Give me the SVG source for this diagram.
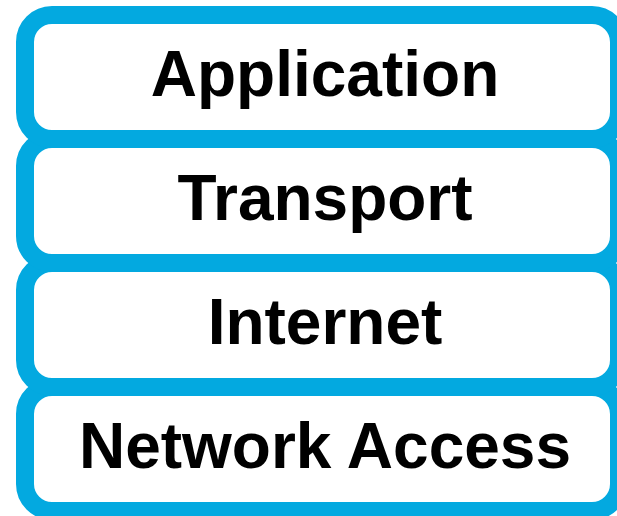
<svg xmlns="http://www.w3.org/2000/svg" width="617" height="516" viewBox="0 0 617 516">
  <style>
    .layer { fill: #ffffff; stroke: #03A9E0; stroke-width: 18; }
    .label { font-family: "Liberation Sans", Arial, sans-serif; font-weight: bold; font-size: 64px; fill: #000000; text-anchor: middle; }
  </style>
  <rect width="617" height="516" fill="#ffffff"/>
  <g id="network-access">
    <rect class="layer" x="25" y="387" width="594" height="124" rx="27" ry="27"/>
    <text class="label" x="325" y="468">Network Access</text>
  </g>
  <g id="internet">
    <rect class="layer" x="25" y="263" width="594" height="124" rx="27" ry="27"/>
    <text class="label" x="325" y="344">Internet</text>
  </g>
  <g id="transport">
    <rect class="layer" x="25" y="139" width="594" height="124" rx="27" ry="27"/>
    <text class="label" x="325" y="220">Transport</text>
  </g>
  <g id="application">
    <rect class="layer" x="25" y="15" width="594" height="124" rx="27" ry="27"/>
    <text class="label" x="325" y="96">Application</text>
  </g>
  <g id="connectors"/>
</svg>
